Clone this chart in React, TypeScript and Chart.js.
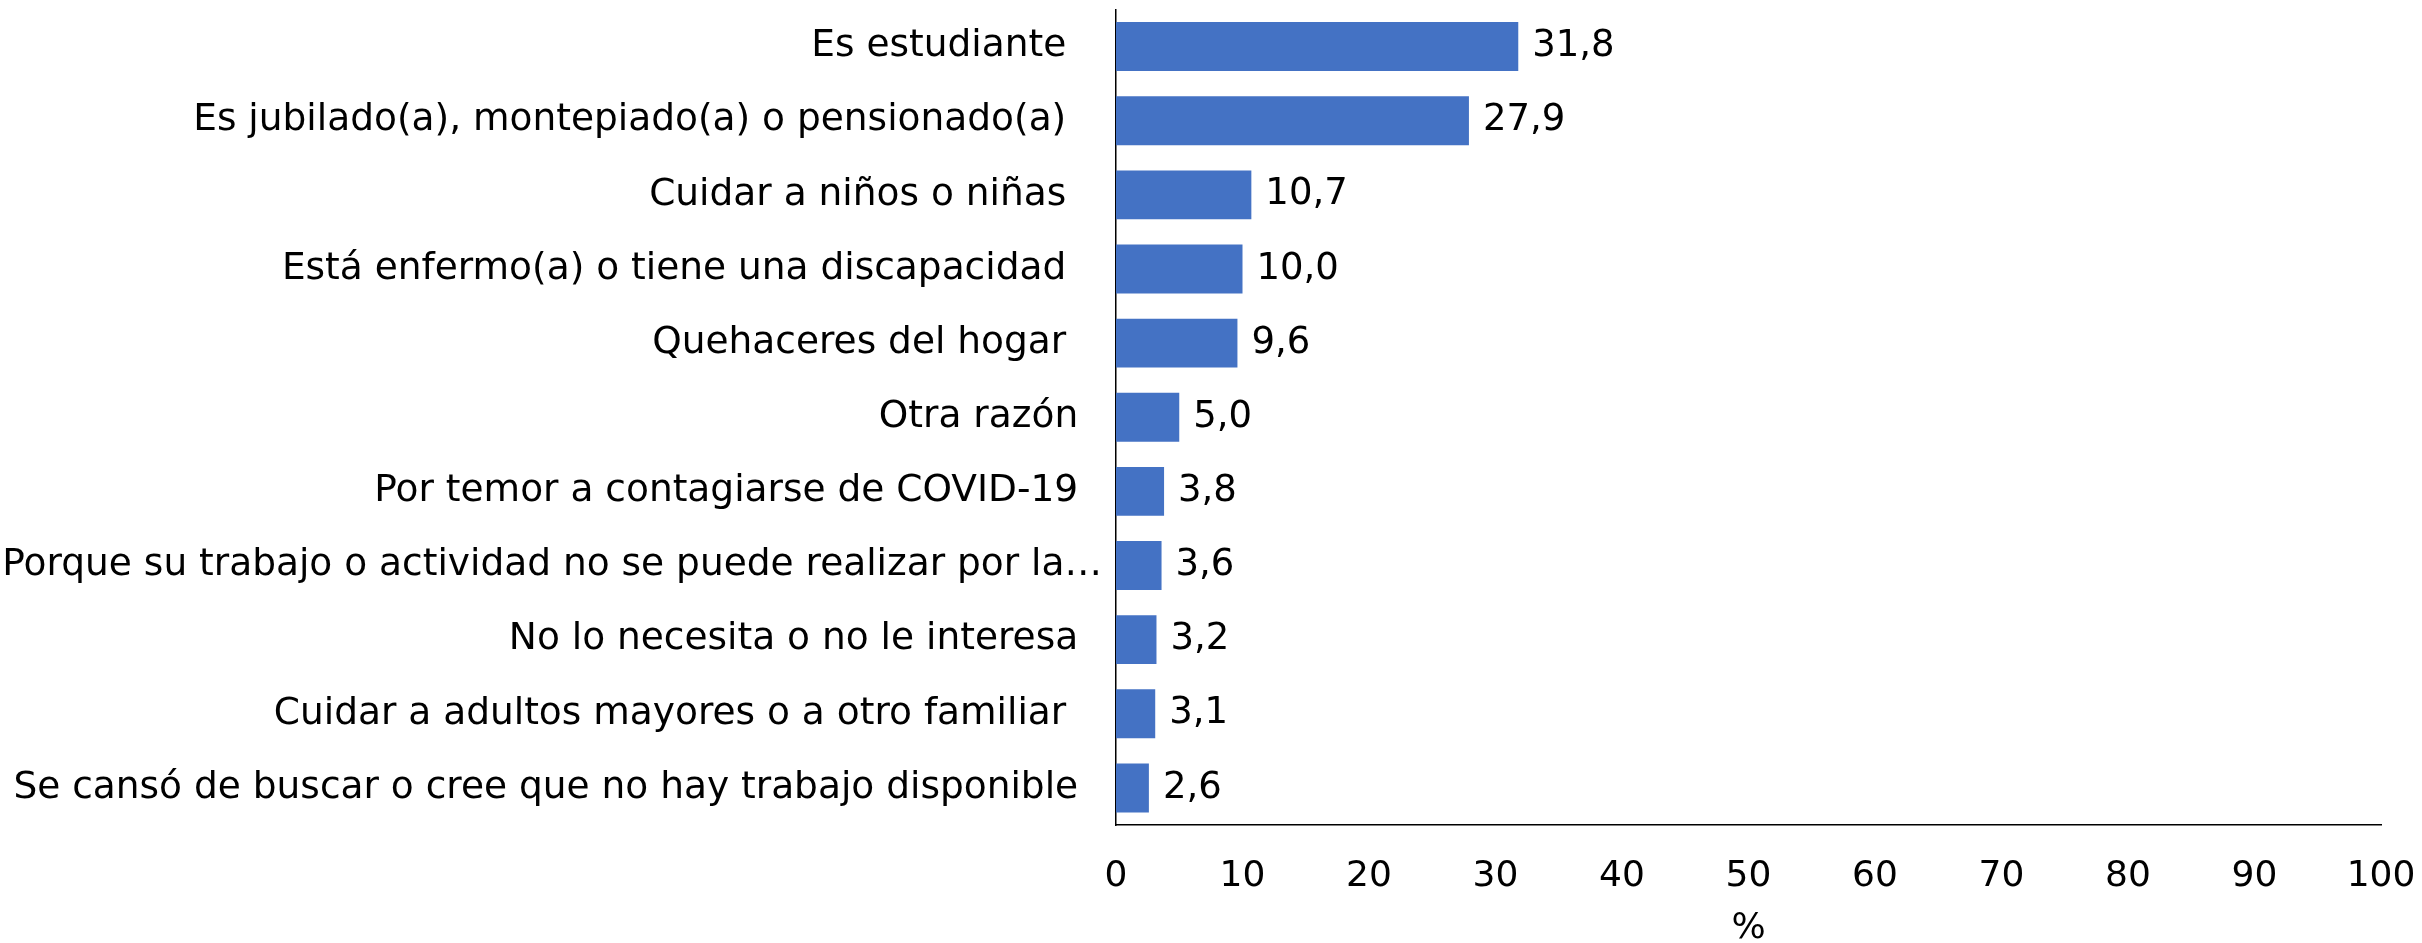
import React, { useEffect, useRef } from "react";
import { Chart, registerables } from "chart.js";

Chart.register(...registerables);

const categories: string[] = [
  "Es estudiante   ",
  "Es jubilado(a), montepiado(a) o pensionado(a)   ",
  "Cuidar a niños o niñas   ",
  "Está enfermo(a) o tiene una discapacidad   ",
  "Quehaceres del hogar   ",
  "Otra razón  ",
  "Por temor a contagiarse de COVID-19  ",
  "Porque su trabajo o actividad no se puede realizar por la…",
  "No lo necesita o no le interesa  ",
  "Cuidar a adultos mayores o a otro familiar   ",
  "Se cansó de buscar o cree que no hay trabajo disponible  ",
];

const values: number[] = [31.8, 27.9, 10.7, 10.0, 9.6, 5.0, 3.8, 3.6, 3.2, 3.1, 2.6];

const xTicks: number[] = [0, 10, 20, 30, 40, 50, 60, 70, 80, 90, 100];
const xTitle = "%";

const FONT = "'DejaVu Sans', Verdana, sans-serif";
const BAR_COLOR = "#4472C4";

const valueLabels = {
  id: "valueLabels",
  afterDatasetsDraw(chart: any) {
    const ctx = chart.ctx;
    const meta = chart.getDatasetMeta(0);
    ctx.save();
    ctx.font = `37px ${FONT}`;
    ctx.fillStyle = "#000";
    ctx.textAlign = "left";
    ctx.textBaseline = "middle";
    meta.data.forEach((bar: any, i: number) => {
      const txt = values[i].toFixed(1).replace(".", ",");
      ctx.fillText(txt, bar.x + 14, bar.y);
    });
    ctx.restore();
  },
};

export default function App() {
  const ref = useRef<HTMLCanvasElement | null>(null);
  useEffect(() => {
    if (!ref.current) return;
    Chart.defaults.color = "#000";
    const chart = new Chart(ref.current, {
      type: "bar",
      data: {
        labels: categories,
        datasets: [
          {
            data: values,
            backgroundColor: BAR_COLOR,
            borderWidth: 0,
            categoryPercentage: 1,
            barPercentage: 0.66,
          },
        ],
      },
      options: {
        indexAxis: "y",
        responsive: false,
        animation: false,
        layout: { padding: { top: 9.5, right: 41, bottom: 0, left: 0 } },
        plugins: {
          legend: { display: false },
          tooltip: { enabled: false },
        },
        scales: {
          x: {
            min: 0,
            max: 100,
            afterBuildTicks(scale: any) {
              scale.ticks = xTicks.map((v) => ({ value: v }));
            },
            afterFit(scale: any) {
              scale.height = 118;
              scale.paddingLeft = 0;
              scale.paddingRight = 0;
            },
            grid: { display: false, drawTicks: false },
            border: { display: true, color: "#000", width: 1.5 },
            ticks: {
              padding: 30,
              color: "#000",
              font: { family: FONT, size: 36 },
              maxRotation: 0,
            },
            title: {
              display: true,
              text: xTitle,
              color: "#000",
              font: { family: FONT, size: 36, lineHeight: 1 },
              padding: { top: 0, bottom: -4 },
            },
          },
          y: {
            afterFit(scale: any) {
              scale.width = 1116;
              scale.paddingTop = 0;
              scale.paddingBottom = 0;
            },
            grid: { display: false, drawTicks: false },
            border: { display: true, color: "#000", width: 1.5 },
            ticks: {
              padding: 14,
              color: "#000",
              font: { family: FONT, size: 37.5 },
              autoSkip: false,
            },
          },
        },
      },
      plugins: [valueLabels],
    });
    return () => chart.destroy();
  }, []);
  return (
    <canvas
      ref={ref}
      width={2422}
      height={943}
      style={{ position: "fixed", left: 0, top: 0, width: 2422, height: 943, display: "block", background: "#fff" }}
    />
  );
}
